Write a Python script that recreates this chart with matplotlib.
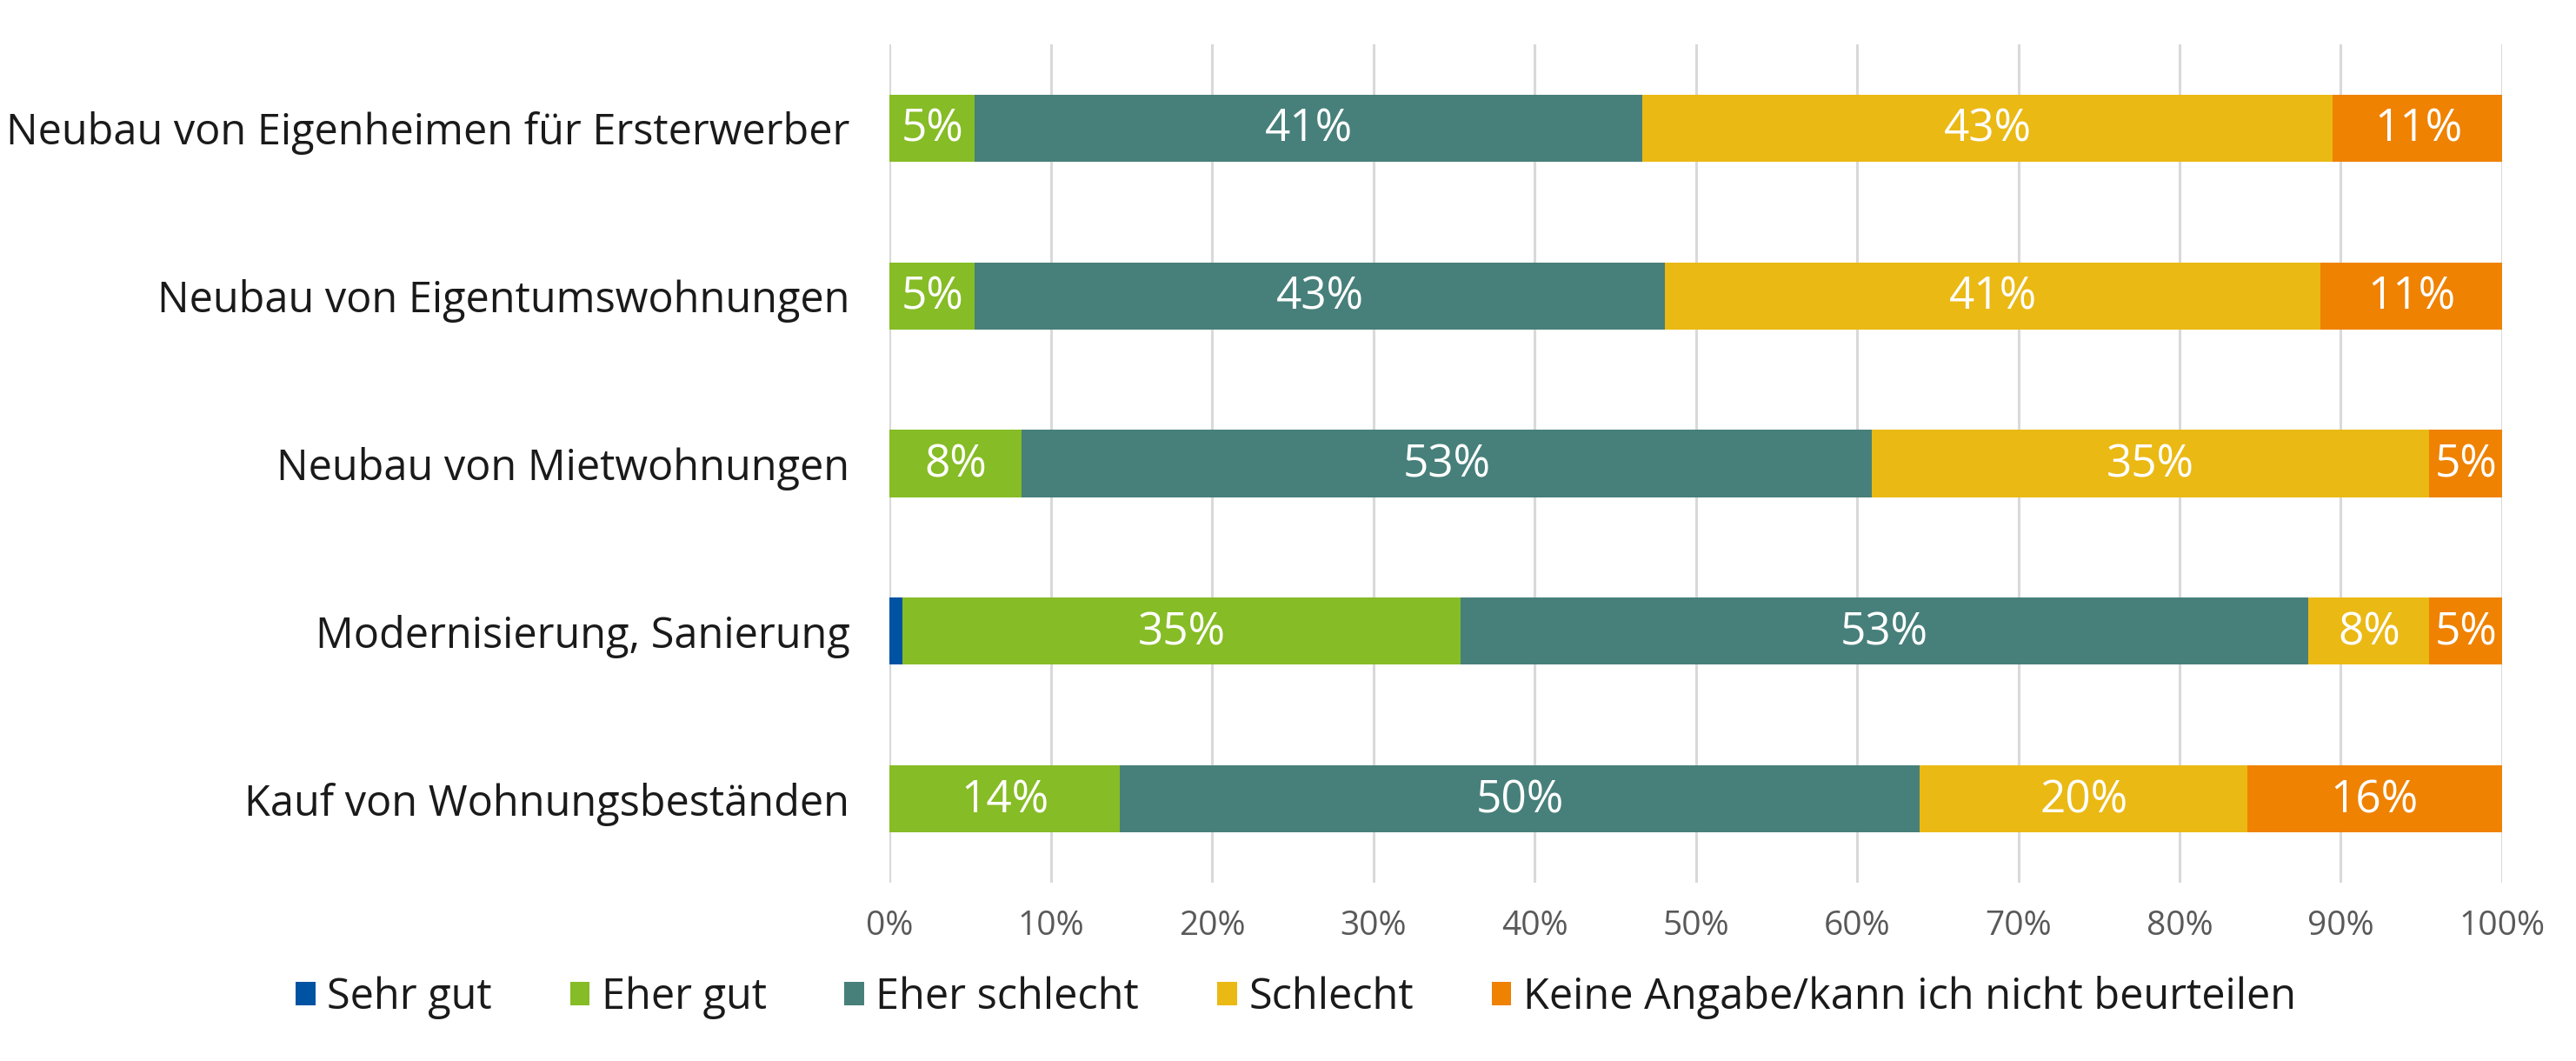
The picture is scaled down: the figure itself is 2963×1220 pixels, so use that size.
import matplotlib
matplotlib.use("Agg")
import matplotlib.pyplot as plt
import numpy as np

plt.rcParams['font.family'] = ['Open Sans', 'DejaVu Sans']

categories = [
    "Neubau von Eigenheimen für Ersterwerber",
    "Neubau von Eigentumswohnungen",
    "Neubau von Mietwohnungen",
    "Modernisierung, Sanierung",
    "Kauf von Wohnungsbeständen",
]
series_names = ["Sehr gut", "Eher gut", "Eher schlecht", "Schlecht",
                "Keine Angabe/kann ich nicht beurteilen"]
sehr_gut = [0.0, 0.0, 0.0, 0.8, 0.0]
eher_gut = [5.3, 5.3, 8.2, 34.6, 14.3]
eher_schlecht = [41.4, 42.8, 52.7, 52.6, 49.6]
schlecht = [42.8, 40.65, 34.6, 7.5, 20.3]
keine_angabe = [10.6, 11.25, 4.5, 4.5, 15.8]
colors = ["#0052A3", "#86BC25", "#47807A", "#EAB914", "#EF8200"]
xticks = [0, 10, 20, 30, 40, 50, 60, 70, 80, 90, 100]

series = [sehr_gut, eher_gut, eher_schlecht, schlecht, keine_angabe]

fig = plt.figure(figsize=(29.63, 12.2), dpi=100)
ax = fig.add_axes([0.3453, 0.168, 0.9713 - 0.3453, 0.9582 - 0.168])

y = np.arange(len(categories))
left = np.zeros(len(categories))
handles = []
for vals, name, col in zip(series, series_names, colors):
    vals = np.array(vals)
    h = ax.barh(y, vals, left=left, height=0.4, color=col, label=name, zorder=3)
    handles.append(h)
    for yi, (l, v) in enumerate(zip(left, vals)):
        if v >= 1:
            ax.text(l + v / 2, yi + 0.01, f"{int(v + 0.5)}%", ha="center", va="center",
                    color="white", fontsize=37, zorder=4)
    left = left + vals

ax.set_xlim(0, 100)
ax.set_ylim(len(categories) - 0.5, -0.5)
ax.set_xticks(xticks)
ax.set_xticklabels([f"{t}%" for t in xticks], color="#595959", fontsize=28)
ax.set_yticks(y)
ax.set_yticklabels(categories, fontsize=35, color="#1a1a1a")
ax.tick_params(axis="both", length=0)
ax.tick_params(axis="y", pad=33)
ax.tick_params(axis="x", pad=22)
ax.grid(axis="x", color="#D9D9D9", linewidth=2.2, zorder=0)
ax.grid(axis="y", visible=False)
for s in ax.spines.values():
    s.set_visible(False)

fig.legend(handles=handles, labels=series_names, loc="center",
           bbox_to_anchor=(0.503, 0.06), ncol=5, frameon=False, fontsize=35,
           handlelength=0.47, handleheight=0.47, handletextpad=0.27,
           columnspacing=1.85, labelcolor="#1a1a1a")

fig.savefig("out.png", dpi=100)
